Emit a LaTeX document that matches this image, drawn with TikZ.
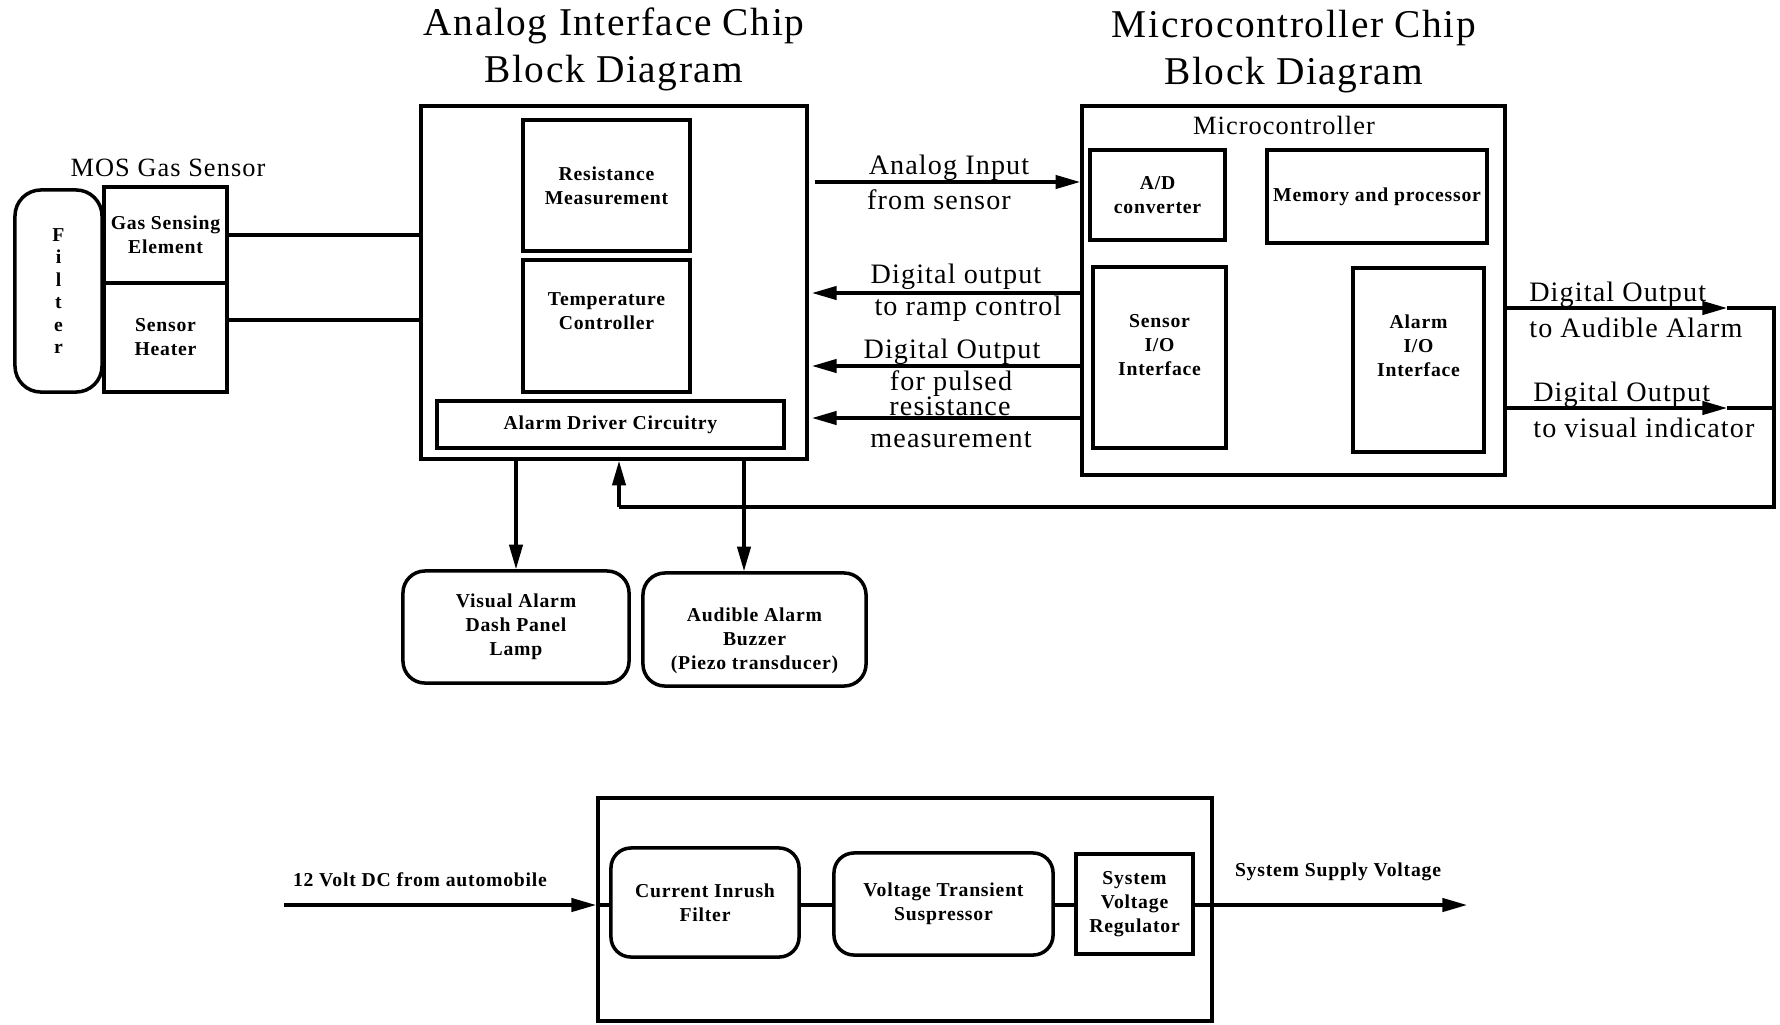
\documentclass[tikz,border=0pt]{standalone}
\usepackage{fontspec}
\setmainfont{Liberation Serif}[LetterSpace=4]
\usetikzlibrary{arrows.meta}

\tikzset{
  blk/.style={draw, line width=1pt, inner sep=0pt, align=center,
    font=\bfseries\fontsize{5.6}{6.8}\selectfont},
  rblk/.style={blk, rounded corners=0.22cm},
  boxtxt/.style={align=center, font=\bfseries\fontsize{5.6}{6.8}\selectfont},
  lbl/.style={align=center, font=\fontsize{8}{9.6}\selectfont},
  ttl/.style={align=center, font=\fontsize{11.2}{13.4}\selectfont},
  arr/.style={-{Triangle[length=7pt,width=3.8pt]}, line width=0.9pt},
}

\begin{document}
\begin{tikzpicture}[x=0.01cm, y=-0.01cm, line width=0.9pt]
    \useasboundingbox (0,0) rectangle (1780,1024);

    % titles
    \node[ttl] (antitle) at (614,49) {Analog Interface Chip\\Block Diagram};
    \node[ttl] (mctitle) at (1294,52) {Microcontroller Chip\\Block Diagram};

    % gas sensor
    \node[lbl, font=\fontsize{7.5}{9}\selectfont] (mostitle) at (168,168) {MOS Gas Sensor};
    \node[rblk, rounded corners=0.26cm, minimum width=0.87cm, minimum height=2.02cm,
      font=\bfseries\fontsize{5.6}{6.4}\selectfont] (filter) at (58.5,291) {F\\i\\l\\t\\e\\r};
    \node[blk, minimum width=1.23cm, minimum height=0.96cm] (gse) at (165.5,235) {Gas Sensing\\Element};
    \node[blk, minimum width=1.23cm, minimum height=1.09cm] (heater) at (165.5,337.5) {Sensor\\Heater};

    % analog interface chip
    \node[blk, minimum width=3.86cm, minimum height=3.53cm] (analog) at (614,282.5) {};
    \node[blk, minimum width=1.67cm, minimum height=1.31cm] (resm) at (606.5,185.5) {Resistance\\Measurement};
    \node[blk, minimum width=1.67cm, minimum height=1.32cm] (tempc) at (606.5,326) {};
    \node[boxtxt] (tempc-txt) at (606.5,311) {Temperature\\Controller};
    \node[blk, minimum width=3.47cm, minimum height=0.47cm] (drv) at (610.5,424.5) {Alarm Driver Circuitry};

    % microcontroller chip
    \node[blk, minimum width=4.23cm, minimum height=3.69cm] (micro) at (1293.5,290.5) {};
    \node[lbl, font=\fontsize{7.5}{9}\selectfont] (micro-txt) at (1284,125) {Microcontroller};
    \node[blk, minimum width=1.35cm, minimum height=0.90cm] (adc) at (1157.5,195) {A/D\\converter};
    \node[blk, minimum width=2.20cm, minimum height=0.93cm] (mem) at (1377,196.5) {Memory and processor};
    \node[blk, minimum width=1.33cm, minimum height=1.81cm] (sio) at (1159.5,357.5) {};
    \node[boxtxt] (sio-txt) at (1159.5,345) {Sensor\\I/O\\Interface};
    \node[blk, minimum width=1.31cm, minimum height=1.84cm] (aio) at (1418.5,360) {};
    \node[boxtxt] (aio-txt) at (1418.5,346) {Alarm\\I/O\\Interface};

    % alarms
    \node[rblk, minimum width=2.26cm, minimum height=1.12cm] (vis) at (516,627) {Visual Alarm\\Dash Panel\\Lamp};
    \node[rblk, minimum width=2.23cm, minimum height=1.13cm] (aud) at (754.5,629.5) {};
    \node[boxtxt] (aud-txt) at (754.5,641) {Audible Alarm\\Buzzer\\(Piezo transducer)};

    % sensor to analog chip
    \coordinate (htr) at (0,320);
    \draw (gse.east) -- (gse.east -| analog.west);
    \draw (heater.east |- htr) -- (analog.west |- htr);

    % between the chips
    \coordinate (ain) at (815,182);
    \coordinate (dout1) at (812,293);
    \coordinate (dout2) at (812,366);
    \coordinate (dout3) at (812,418);
    \draw[arr] (ain) -- (ain -| micro.west);
    \draw[arr] (dout1 -| micro.west) -- (dout1);
    \draw[arr] (dout2 -| micro.west) -- (dout2);
    \draw[arr] (dout3 -| micro.west) -- (dout3);
    \node[lbl] (l-ain1) at (949,168) {Analog Input};
    \node[lbl] (l-ain2) at (939,200) {from sensor};
    \node[lbl] (l-do1) at (956,277) {Digital output};
    \node[lbl] (l-do2) at (968,309) {to ramp control};
    \node[lbl] (l-do3) at (952,352) {Digital Output};
    \node[lbl] (l-do4) at (951,384) {for pulsed};
    \node[lbl] (l-do5) at (950,406) {resistance};
    \node[lbl] (l-do6) at (951,440) {measurement};

    % alarm outputs
    \coordinate (buzx) at (744,0);
    \draw[arr] (analog.south -| vis.north) -- (vis.north);
    \draw[arr] (analog.south -| buzx) -- (aud.north -| buzx);

    % outputs and feedback
    \coordinate (tipA) at (1727,308);
    \coordinate (outA) at (1774,308);
    \coordinate (tipV) at (1727,408);
    \coordinate (outV) at (1774,408);
    \coordinate (fbk) at (1774,507);
    \coordinate (fbx) at (619,507);
    \draw[arr] (outA -| micro.east) -- (tipA);
    \draw[arr] (outV -| micro.east) -- (tipV);
    \draw (tipA) -- (outA) -- (fbk) -- (fbx);
    \draw (tipV) -- (outV);
    \draw[arr] (fbx) -- (fbx |- analog.south);
    \node[lbl, anchor=west] (l-oa1) at (1516,295) {Digital Output};
    \node[lbl, anchor=west] (l-oa2) at (1516,328) {to Audible Alarm};
    \node[lbl, anchor=west] (l-ov1) at (1520,395) {Digital Output};
    \node[lbl, anchor=west] (l-ov2) at (1520,428) {to visual indicator};

    % power supply
    \node[blk, minimum width=6.14cm, minimum height=2.23cm] (psu) at (905,909.5) {};
    \node[rblk, rounded corners=0.2cm, minimum width=1.88cm, minimum height=1.09cm] (inrush) at (705,902.5) {Current Inrush\\Filter};
    \node[rblk, rounded corners=0.2cm, minimum width=2.19cm, minimum height=1.02cm] (tvs) at (943.5,904) {Voltage Transient\\Suspressor};
    \node[blk, minimum width=1.17cm, minimum height=1.00cm] (reg) at (1134.5,904) {System\\Voltage\\Regulator};
    \coordinate (vin) at (284,905);
    \coordinate (vout) at (1467,905);
    \draw[arr] (vin) -- (vin -| psu.west);
    \draw (vin -| psu.west) -- (inrush.west |- vin);
    \draw (inrush.east |- vin) -- (tvs.west |- vin);
    \draw (tvs.east |- vin) -- (reg.west |- vin);
    \draw[arr] (reg.east |- vin) -- (vout);
    \node[boxtxt] (l-vin) at (420,880) {12 Volt DC from automobile};
    \node[boxtxt] (l-vout) at (1338,872) {System Supply Voltage};
\end{tikzpicture}
\end{document}
